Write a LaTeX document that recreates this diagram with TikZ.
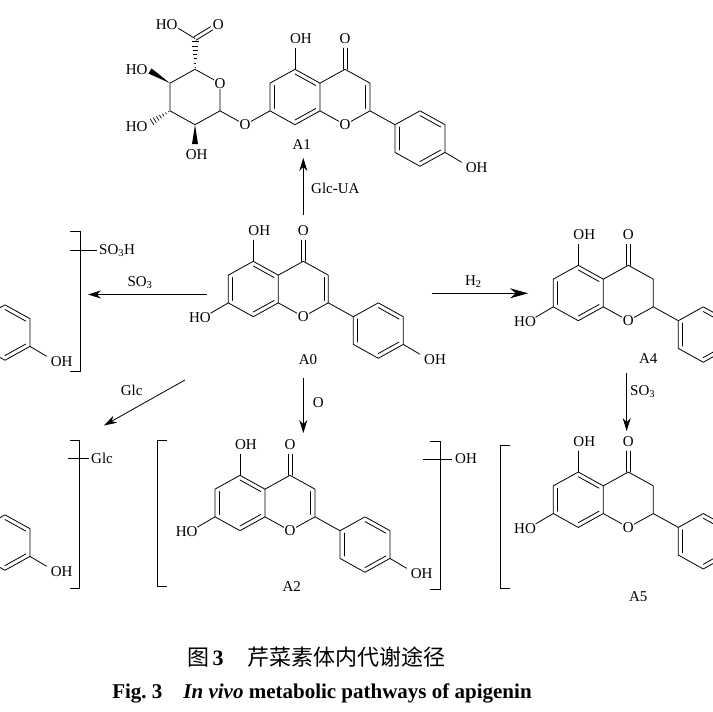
\documentclass[tikz,border=0pt]{standalone}
\usepackage{fontspec}
\setmainfont{Liberation Serif}
\newfontfamily\cjk{Noto Sans CJK SC}
\usetikzlibrary{calc,arrows.meta}
\tikzset{
  bond/.style={line width=0.8pt, line cap=round, line join=round},
  atom/.style={font=\fontsize{15}{15}\selectfont, inner sep=0.6pt, fill=white},
  lbl/.style={font=\fontsize{15}{15}\selectfont, inner sep=0pt},
  rxn/.style={line width=0.8pt, -{Stealth[length=13pt,width=8pt]}},
  rxnbig/.style={line width=0.8pt, -{Stealth[length=18pt,width=10pt]}},
  brk/.style={line width=0.8pt},
}
% flavone / flavanone skeleton in local pixel coordinates (ring C centre = origin)
\newcommand\flavskel[2]{%
  \coordinate (rc) at (0,0);
  \coordinate (ra) at (-50,0);
  \coordinate (rb) at (75,41.55);
  \coordinate (C4) at (0,-27.7);
  \coordinate (C3) at (25,-13.85);
  \coordinate (C2) at (25,13.85);
  \coordinate (O1) at (0,27.7);
  \coordinate (C8a) at (-25,13.85);
  \coordinate (C4a) at (-25,-13.85);
  \coordinate (C5) at (-50,-27.7);
  \coordinate (C6) at (-75,-13.85);
  \coordinate (C7) at (-75,13.85);
  \coordinate (C8) at (-50,27.7);
  \coordinate (P1) at (50,27.7);
  \coordinate (P2) at (75,13.85);
  \coordinate (P3) at (100,27.7);
  \coordinate (P4) at (100,55.4);
  \coordinate (P5) at (75,69.25);
  \coordinate (P6) at (50,55.4);
  \draw[bond] (C4a)--(C5)--(C6)--(C7)--(C8)--(C8a)--cycle;
  \draw[bond] (C4a)--(C4)--(C3)--(C2)--(O1)--(C8a);
  \draw[bond] (C2)--(P1);
  \draw[bond] (P1)--(P2)--(P3)--(P4)--(P5)--(P6)--cycle;
  \draw[bond] ($(C4a)!.17!(ra)$)--($(C5)!.17!(ra)$);
  \draw[bond] ($(C6)!.17!(ra)$)--($(C7)!.17!(ra)$);
  \draw[bond] ($(C8)!.17!(ra)$)--($(C8a)!.17!(ra)$);
  \ifnum#1=1 \draw[bond] ($(C3)!.17!(rc)$)--($(C2)!.17!(rc)$);\fi
  \draw[bond] ($(P2)!.17!(rb)$)--($(P3)!.17!(rb)$);
  \draw[bond] ($(P4)!.17!(rb)$)--($(P5)!.17!(rb)$);
  \draw[bond] ($(P6)!.17!(rb)$)--($(P1)!.17!(rb)$);
  \draw[bond] ($(C4)+(-2,0)$)--++(0,-21);
  \draw[bond] ($(C4)+(2,0)$)--++(0,-21);
  \draw[bond] (C5)--++(0,-21);
  \draw[bond] (P4)--++(16.5,9.8);
  \ifnum#2=1
    \draw[bond] (C7)--++(-17.6,10.3);
    \node[lbl] at (-103.3,29) {HO};
  \fi
  \node[atom] at (O1) {O};
  \node[lbl] at (0,-58) {O};
  \node[lbl] at (-44,-58) {OH};
  \node[lbl] at (131.7,71) {OH};
}
\newcommand\hashbond[2]{%
  \foreach \t/\w in {0.06/0.5,0.2/1.0,0.34/1.5,0.48/2.0,0.62/2.5,0.76/3.0,0.9/3.5}
    \draw[line width=0.7pt] ($(#1)!\t!(#2)!\w pt!90:(#2)$) -- ($(#1)!\t!(#2)!\w pt!-90:(#2)$);}
\newcommand\wedgebond[2]{%
  \fill ($(#1)$) -- ($(#2)!3pt!90:(#1)$) -- ($(#2)!3pt!-90:(#1)$) -- cycle;}

\begin{document}
\begin{tikzpicture}[x=1pt,y=-1pt]
\useasboundingbox (0,0) rectangle (713,712);
\fill[white] (0,0) rectangle (713,712);
\begin{scope}
\clip (0,0) rectangle (713,712);

% ---------- A0 ----------
\begin{scope}[shift={(303.3,289)}]
  \flavskel{1}{1}
\end{scope}
\node[lbl] (lA0) at (308,360) {A0};

% ---------- A1 ----------
\begin{scope}[shift={(345,97)}]
  \flavskel{1}{0}
  \coordinate (OL) at (-100,27.7);
  \coordinate (S5) at (-150,-27.7);
  \coordinate (SO) at (-125,-13.85);
  \coordinate (S1) at (-125,13.85);
  \coordinate (S2) at (-150,27.7);
  \coordinate (S3) at (-175,13.85);
  \coordinate (S4) at (-175,-13.85);
  \coordinate (CC) at (-150,-58.5);
  \draw[bond] (C7)--(OL)--(S1);
  \draw[bond] (S5)--(SO)--(S1)--(S2)--(S3)--(S4)--cycle;
  \hashbond{S5}{CC}
  \draw[bond] (CC)--(-166.7,-68.7);
  \draw[bond] ($(CC)+(-1,-1.7)$)--($(-133.3,-68.7)+(-1,-1.7)$);
  \draw[bond] ($(CC)+(1,1.7)$)--($(-133.3,-68.7)+(1,1.7)$);
  \wedgebond{S4}{-195,-26}
  \hashbond{S3}{-195,26}
  \wedgebond{S2}{-150,47}
  \node[atom] at (OL) {O};
  \node[atom] at (SO) {O};
  \node[lbl] at (-178.3,-72) {HO};
  \node[lbl] at (-126.7,-72) {O};
  \node[lbl] at (-208.3,-27) {HO};
  \node[lbl] at (-208.3,29.7) {HO};
  \node[lbl] at (-148.3,58) {OH};
\end{scope}
\node[lbl] (lA1) at (301.7,145) {A1};

% ---------- A2 ----------
\begin{scope}[shift={(290,503)}]
  \flavskel{1}{1}
\end{scope}
\node[lbl] (lA2) at (291.7,586.7) {A2};
\draw[brk] (166.7,440)--(157.3,440)--(157.3,586.7)--(166.7,586.7);
\draw[brk] (430,441.7)--(440,441.7)--(440,589.3)--(430,589.3);
\draw[brk] (423.3,459)--(451.7,459);
\node[lbl,anchor=west] at (455,459) {OH};

% ---------- A4 ----------
\begin{scope}[shift={(628.3,293)}]
  \flavskel{0}{1}
\end{scope}
\node[lbl] (lA4) at (648.3,358.3) {A4};

% ---------- A5 ----------
\begin{scope}[shift={(628.3,499.7)}]
  \flavskel{0}{1}
\end{scope}
\node[lbl] (lA5) at (638.3,596.7) {A5};
\draw[brk] (510,445)--(500,445)--(500,588.3)--(510,588.3);

% ---------- left partial: sulfate ----------
\begin{scope}[shift={(-70,291)}]
  \flavskel{1}{1}
\end{scope}
\draw[brk] (70,231.7)--(80,231.7)--(80,371.7)--(70,371.7);
\draw[brk] (70,250)--(96.7,250);
\node[lbl,anchor=west] at (99,251) {SO\textsubscript{3}H};

% ---------- left partial: glucoside ----------
\begin{scope}[shift={(-70,501)}]
  \flavskel{1}{1}
\end{scope}
\draw[brk] (70,440)--(79,440)--(79,588.3)--(70,588.3);
\draw[brk] (68,458.3)--(89,458.3);
\node[lbl,anchor=west] at (91,458.3) {Glc};

% ---------- reaction arrows ----------
\coordinate (a1s) at (303.3,215);   \coordinate (a1e) at (303.3,158);
\coordinate (a2s) at (207,294.5);   \coordinate (a2e) at (88,294.5);
\coordinate (a3s) at (431.7,293.3); \coordinate (a3e) at (528,293.3);
\coordinate (a4s) at (185,380);     \coordinate (a4e) at (104,425.5);
\coordinate (a5s) at (303.3,378);   \coordinate (a5e) at (303.3,433);
\coordinate (a6s) at (626.7,373.3); \coordinate (a6e) at (626.7,431);
\draw[rxn] (a1s)--(a1e);
\draw[rxn] (a2s)--(a2e);
\draw[rxnbig] (a3s)--(a3e);
\draw[rxn] (a4s)--(a4e);
\draw[rxn] (a5s)--(a5e);
\draw[rxn] (a6s)--(a6e);
\node[lbl,anchor=west] at (311,188) {Glc-UA};
\node[lbl] at (140,283) {SO\textsubscript{3}};
\node[lbl] at (473.3,281.7) {H\textsubscript{2}};
\node[lbl] at (131.7,390) {Glc};
\node[lbl] at (318.3,402.7) {O};
\node[lbl,anchor=west] at (630,391.7) {SO\textsubscript{3}};
\end{scope}

% ---------- captions ----------
\node[font=\fontsize{22}{22}\selectfont, inner sep=0pt] (cap1) at (316.5,657)
  {{\cjk 图}\,\textbf{3}\hspace{1.1em}{\cjk 芹菜素体内代谢途径}};
\node[font=\fontsize{21}{21}\selectfont\bfseries, inner sep=0pt] (cap2) at (322,693)
  {Fig.\ 3\hspace{1em}\textit{In vivo} metabolic pathways of apigenin};
\end{tikzpicture}
\end{document}
